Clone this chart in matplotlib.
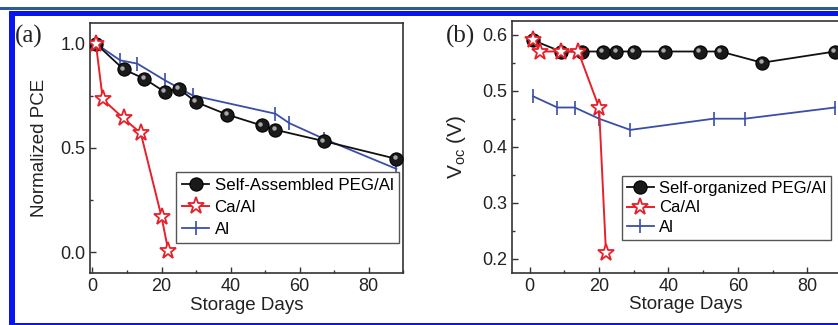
import matplotlib
matplotlib.use("Agg")
import matplotlib.pyplot as plt
from matplotlib.patches import Rectangle
from matplotlib.ticker import MultipleLocator
from matplotlib.transforms import ScaledTranslation

# ---------------- data ----------------
a_peg_x = [1, 9, 15, 21, 25, 30, 39, 49, 53, 67, 88]
a_peg_y = [1.0, 0.877, 0.832, 0.768, 0.784, 0.72, 0.66, 0.608, 0.587, 0.533, 0.448]
a_ca_x = [1, 3, 9, 14, 20, 22]
a_ca_y = [1.0, 0.733, 0.642, 0.571, 0.171, 0.005]
a_al_x = [1, 8, 13, 21, 29, 53, 57, 67, 88]
a_al_y = [1.0, 0.92, 0.904, 0.824, 0.752, 0.664, 0.619, 0.544, 0.40]

b_peg_x = [1, 9, 15, 21, 25, 30, 39, 49, 55, 67, 88]
b_peg_y = [0.59, 0.57, 0.57, 0.57, 0.57, 0.57, 0.57, 0.57, 0.57, 0.55, 0.57]
b_ca_x = [1, 3, 9, 14, 20, 22]
b_ca_y = [0.59, 0.57, 0.57, 0.57, 0.47, 0.21]
b_al_x = [1, 8, 13, 20, 29, 53, 62, 88]
b_al_y = [0.49, 0.47, 0.47, 0.45, 0.43, 0.45, 0.45, 0.47]

labels_a = ["Self-Assembled PEG/Al", "Ca/Al", "Al"]
labels_b = ["Self-organized PEG/Al", "Ca/Al", "Al"]
xticks = [0, 20, 40, 60, 80]

# ---------------- style ----------------
plt.rcParams['font.family'] = ['Liberation Sans', 'DejaVu Sans']
plt.rcParams['mathtext.fontset'] = 'custom'
plt.rcParams['mathtext.rm'] = 'Liberation Sans'
plt.rcParams['mathtext.it'] = 'Liberation Sans:italic'

W, H = 838, 325
fig = plt.figure(figsize=(W / 100, H / 100), dpi=100)

def px_rect(x0, y0, x1, y1, color):
    fig.add_artist(Rectangle((x0 / W, 1 - y1 / H), (x1 - x0) / W, (y1 - y0) / H,
                             transform=fig.transFigure, facecolor=color,
                             edgecolor='none', zorder=0))

# decorative frame
px_rect(0, 7.5, W, 9.5, '#2a5c9a')
px_rect(9, 11, W, 16, '#0a14f0')
px_rect(9, 11, 14.5, 325, '#0a14f0')
px_rect(9, 323, W, 325, '#0a14f0')

BLACK = '#111111'
RED = '#e8202a'
BLUE = '#3a4ea8'
SPINE = '#333333'
TXT = '#222222'

def style_axes(ax):
    for s in ax.spines.values():
        s.set_color(SPINE)
        s.set_linewidth(1.2)
    ax.tick_params(which='both', direction='in', colors=SPINE, labelcolor=TXT,
                   labelsize=13, width=1.0)
    ax.tick_params(which='major', length=4)
    ax.tick_params(which='minor', length=2.5)
    ax.tick_params(top=False, right=False)

def plot_series(ax, px, py, cx, cy, lx, ly, labels):
    h1, = ax.plot(px, py, color=BLACK, lw=1.3, marker='o', ms=9.5,
                  mfc='#1a1a1a', mec='#000000', mew=0.8, label=labels[0], zorder=3)
    # highlight for a shaded-sphere look
    off = ax.transData + ScaledTranslation(-1.6 / 100, 1.6 / 100, fig.dpi_scale_trans)
    ax.plot(px, py, ls='none', marker='o', ms=3.2, mfc='#a8a8a8', mec='none',
            zorder=3.5, transform=off)
    h2, = ax.plot(cx, cy, color=RED, lw=1.4, marker='*', ms=12.5,
                  mfc='white', mec=RED, mew=1.3, label=labels[1], zorder=4)
    h3, = ax.plot(lx, ly, color=BLUE, lw=1.3, marker='|', ms=10,
                  mec=BLUE, mew=1.2, label=labels[2], zorder=2)
    return [h1, h2, h3]

# ---------------- panel (a) ----------------
axa = fig.add_axes([90 / W, 1 - 273.3 / H, 313.3 / W, 250.6 / H])
style_axes(axa)
ha = plot_series(axa, a_peg_x, a_peg_y, a_ca_x, a_ca_y, a_al_x, a_al_y, labels_a)
axa.set_xlim(-0.7, 90)
axa.set_ylim(-0.1, 1.1)
axa.set_xticks(xticks)
axa.xaxis.set_minor_locator(MultipleLocator(10))
axa.set_yticks([0.0, 0.5, 1.0])
axa.yaxis.set_minor_locator(MultipleLocator(0.25))
axa.set_xlabel("Storage Days", fontsize=13.5, labelpad=1, color=TXT)
axa.set_ylabel("Normalized PCE", fontsize=13.5, labelpad=9, color=TXT)
leg = axa.legend(handles=ha, loc='lower right', bbox_to_anchor=(0.987, 0.12),
                 fontsize=12.2, numpoints=1, handlelength=1.6, handletextpad=0.3,
                 labelspacing=0.42, borderpad=0.35, borderaxespad=0.0,
                 fancybox=False, framealpha=1, edgecolor='#555555')
leg.get_frame().set_linewidth(1.0)
fig.text(15 / W, 1 - 36 / H, "(a)", family='Liberation Serif', fontsize=18,
         va='center', ha='left', color=TXT)

# ---------------- panel (b) ----------------
axb = fig.add_axes([512.3 / W, 1 - 272.7 / H, 347 / W, 252 / H])
style_axes(axb)
hb = plot_series(axb, b_peg_x, b_peg_y, b_ca_x, b_ca_y, b_al_x, b_al_y, labels_b)
axb.set_xlim(-5, 95)
axb.set_ylim(0.175, 0.625)
axb.set_xticks(xticks)
axb.xaxis.set_minor_locator(MultipleLocator(10))
axb.set_yticks([0.2, 0.3, 0.4, 0.5, 0.6])
axb.yaxis.set_minor_locator(MultipleLocator(0.05))
axb.set_xlabel("Storage Days", fontsize=13.5, labelpad=1, color=TXT)
axb.set_ylabel(r"V$_{\mathrm{oc}}$ (V)", fontsize=15, labelpad=10, color=TXT)
legb = axb.legend(handles=hb, loc='lower right', bbox_to_anchor=(0.918, 0.13),
                  fontsize=12.0, numpoints=1, handlelength=1.6, handletextpad=0.3,
                  labelspacing=0.27, borderpad=0.3, borderaxespad=0.0,
                  fancybox=False, framealpha=1, edgecolor='#555555')
legb.get_frame().set_linewidth(1.0)
fig.text(446 / W, 1 - 36 / H, "(b)", family='Liberation Serif', fontsize=18,
         va='center', ha='left', color=TXT)

fig.savefig("out.png", dpi=100)
